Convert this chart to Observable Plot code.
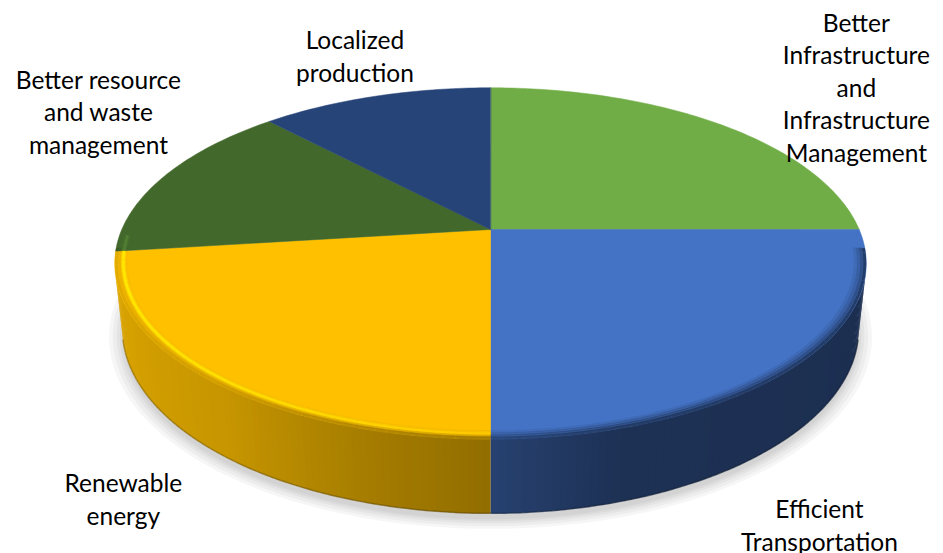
<!DOCTYPE html>
<html><head><meta charset="utf-8">
<script src="https://cdn.jsdelivr.net/npm/d3@7"></script>
<script src="https://cdn.jsdelivr.net/npm/@observablehq/plot@0.6"></script>
<style>html,body{margin:0;padding:0;background:#fff}</style>
</head><body><div id="chart"></div>
<script>
// ---- data ----
const categories = ["Better Infrastructure and Infrastructure Management", "Efficient Transportation", "Renewable energy", "Better resource and waste management", "Localized production"];
const labelLines = [["Better", "Infrastructure", "and", "Infrastructure", "Management"], ["Efficient", "Transportation"], ["Renewable", "energy"], ["Better resource", "and waste", "management"], ["Localized", "production"]];
const values = [25, 25, 23, 15, 12];
const colors = ["#70AD47", "#4472C4", "#FFC000", "#43682B", "#264478"];

// ---- layout (3D projection of the pie) ----
const W = 943, H = 553;
const CX = 490, CY = 229, FOCAL = 1696, DIST = 4.6, TILT = 27.3 * Math.PI / 180, THICK = 0.2;
const cT = Math.cos(TILT), sT = Math.sin(TILT);
function proj(r, deg, Y) {
  const t = deg * Math.PI / 180;
  const X = r * Math.sin(t), Z = -r * Math.cos(t);
  const depth = DIST - Z * cT - Y * sT;
  return [CX + FOCAL * X / depth, CY - FOCAL * (Y * cT - Z * sT) / depth];
}
const pie = d3.pie().sort(null).value(d => d)(values);
const slices = pie.map((p, i) => ({
  i, name: categories[i], a0: p.startAngle * 180 / Math.PI, a1: p.endAngle * 180 / Math.PI,
  color: colors[i], lines: labelLines[i]
}));
function arcAngles(a0, a1, step = 1) {
  const n = Math.max(2, Math.ceil((a1 - a0) / step));
  return d3.range(n + 1).map(j => a0 + (a1 - a0) * j / n);
}
const TH0 = Math.acos(-1 / (DIST * cT)) * 180 / Math.PI; // visible wall limits
const shade = d3.scaleLinear()
  .domain([TH0, 163, 180, 196, 218, 360 - TH0])
  .range([0.41, 0.43, 0.57, 0.65, 0.78, 0.86]).clamp(true);
function shadeColor(base, k) { const c = d3.rgb(base); return d3.rgb(c.r * k, c.g * k, c.b * k).formatHex(); }

// shadow layers
const shadowRows = [];
[1.035, 1.025, 1.015, 1.007, 1.0].forEach((r, li) => {
  d3.range(0, 361, 2).forEach(a => { const [x, y] = proj(r, a, -THICK); shadowRows.push({id: "s" + li, x, y: y + 6}); });
});

// walls (quads slightly overlapping to avoid seams)
const wallRows = [];
const bottomEdge = [];
slices.forEach(sl => {
  const lo = Math.max(sl.a0, TH0), hi = Math.min(sl.a1, 360 - TH0);
  if (hi <= lo) return;
  const angs = arcAngles(lo, hi, 1);
  for (let j = 0; j < angs.length - 1; j++) {
    const a = angs[j], b = Math.min(angs[j + 1] + 0.6, hi);
    const k = shade((angs[j] + angs[j + 1]) / 2);
    const col = shadeColor(sl.color, k);
    const id = `w${sl.i}_${j}`;
    [[a, 0], [b, 0], [b, -THICK], [a, -THICK]].forEach(([t, Y]) => { const [x, y] = proj(1, t, Y); wallRows.push({id, x, y, fill: col}); });
    const [x1, y1] = proj(1, angs[j], -THICK), [x2, y2] = proj(1, angs[j + 1], -THICK);
    bottomEdge.push({x1, y1, x2, y2, color: shadeColor(sl.color, k * 0.7)});
  }
});

// top faces
const topRows = [];
slices.forEach(sl => {
  const id = "t" + sl.i;
  const [cx, cy] = proj(0, 0, 0);
  topRows.push({id, x: cx, y: cy, fill: sl.color});
  arcAngles(sl.a0, sl.a1).forEach(t => { const [x, y] = proj(1, t, 0); topRows.push({id, x, y, fill: sl.color}); });
});

// bevel: darkening rings near the front rim
const ringLevels = [{r: 0.996, op: 0.8}, {r: 0.988, op: 0.5}, {r: 0.98, op: 0.28}, {r: 0.972, op: 0.12}];
function ringSegs(r) {
  const segs = [];
  slices.forEach(sl => {
    const lo = Math.max(sl.a0, TH0 - 8), hi = Math.min(sl.a1, 360 - TH0 + 8);
    if (hi <= lo) return;
    const angs = arcAngles(lo, hi, 1.5);
    for (let j = 0; j < angs.length - 1; j++) {
      const [x1, y1] = proj(r, angs[j], 0), [x2, y2] = proj(r, angs[j + 1], 0);
      segs.push({x1, y1, x2, y2, color: shadeColor(sl.color, shade((angs[j] + angs[j + 1]) / 2))});
    }
  });
  return segs;
}
// highlight ridge on the lit (left-front) rim
const hiStrength = d3.scaleLinear().domain([180, 215, 250]).range([0.2, 0.75, 1]).clamp(true);
function highlightSegs(r) {
  const segs = [];
  slices.forEach(sl => {
    const lo = Math.max(sl.a0, 180), hi = Math.min(sl.a1, 268);
    if (hi <= lo) return;
    const angs = arcAngles(lo, hi, 1.5);
    const bright = d3.rgb(sl.color).brighter(0.55).formatHex();
    for (let j = 0; j < angs.length - 1; j++) {
      const [x1, y1] = proj(r, angs[j], 0), [x2, y2] = proj(r, angs[j + 1], 0);
      const m = (angs[j] + angs[j + 1]) / 2;
      segs.push({x1, y1, x2, y2, color: d3.interpolateRgb(sl.color, bright)(hiStrength(m))});
    }
  });
  return segs;
}

// labels
const nudges = [[136.5, -38], [27, 156], [-82, 120], [-66.5, -65], [-20.5, -41]];
const labelRows = slices.map((sl, i) => {
  const [x, y] = proj(1, (sl.a0 + sl.a1) / 2, 0);
  return {x: x + nudges[i][0], y: y + nudges[i][1], text: sl.lines.join("\n")};
});

const linkOpts = {x1: "x1", y1: "y1", x2: "x2", y2: "y2", stroke: d => d.color, strokeLinecap: "butt"};
const marks = [];
[0, 1, 2, 3, 4].forEach(li => {
  marks.push(Plot.line(shadowRows.filter(d => d.id === "s" + li), {x: "x", y: "y", curve: "linear-closed", fill: "#000", fillOpacity: 0.035, stroke: "none"}));
});
marks.push(Plot.line(wallRows, {x: "x", y: "y", z: "id", curve: "linear-closed", fill: d => d.fill, stroke: "none"}));
marks.push(Plot.link(bottomEdge, {...linkOpts, strokeWidth: 1.5, strokeOpacity: 0.7}));
marks.push(Plot.line(topRows, {x: "x", y: "y", z: "id", curve: "linear-closed", fill: d => d.fill, stroke: d => d.fill, strokeWidth: 0.5}));
ringLevels.forEach(l => marks.push(Plot.link(ringSegs(l.r), {...linkOpts, strokeWidth: 3, strokeOpacity: l.op})));
marks.push(Plot.link(highlightSegs(0.978), {...linkOpts, strokeWidth: 5, strokeOpacity: 0.45}));
marks.push(Plot.link(highlightSegs(0.978), {...linkOpts, strokeWidth: 2.2}));
marks.push(Plot.text(labelRows, {x: "x", y: "y", text: "text", fontSize: 24.5, lineHeight: 1.33, fontFamily: "Lato", fill: "#000", textAnchor: "middle", lineAnchor: "middle"}));

const chart = Plot.plot({
  width: W, height: H, margin: 0,
  x: {domain: [0, W], range: [0, W], axis: null},
  y: {domain: [0, H], range: [0, H], axis: null},
  color: {type: "identity"},
  style: {background: "#fff", overflow: "visible"},
  marks
});
document.getElementById("chart").appendChild(chart);
</script>
</body></html>
